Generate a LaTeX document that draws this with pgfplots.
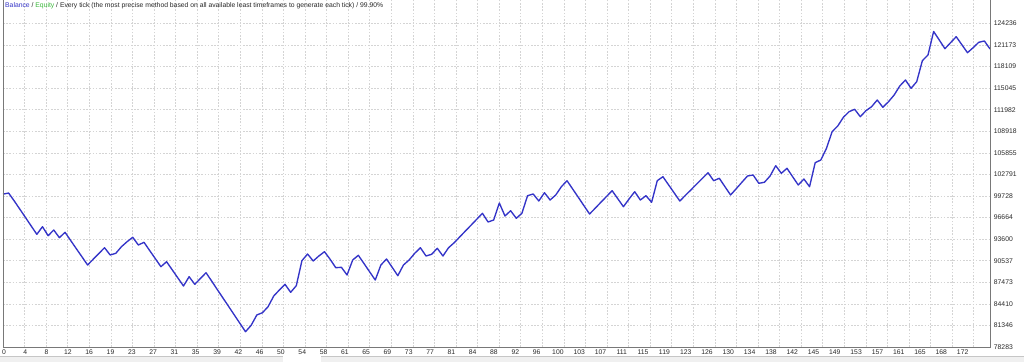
\documentclass[border=0pt]{standalone}
\usepackage{fontspec}
\setmainfont{Liberation Sans}
\usepackage{pgfplots}
\pgfplotsset{compat=1.18}
\usepackage{pgfplotstable}
\definecolor{balblue}{RGB}{52,52,200}
\definecolor{eqgreen}{RGB}{60,185,60}
\definecolor{gridgray}{RGB}{212,212,212}
\definecolor{framegray}{RGB}{120,120,120}
\definecolor{txtgray}{RGB}{40,40,40}

\pgfplotstableread{
i v
0 100000
1 100150
2 99022
3 97843
4 96664
5 95471
6 94292
7 95372
8 94093
9 94903
10 93809
11 94576
12 93411
13 92246
14 91096
15 89931
16 90755
17 91565
18 92389
19 91352
20 91593
21 92531
22 93241
23 93866
24 92772
25 93156
26 91991
27 90840
28 89690
29 90400
30 89249
31 88099
32 86948
33 88269
34 87190
35 88013
36 88837
37 87644
38 86437
39 85243
40 84050
41 82843
42 81650
43 80456
44 81366
45 82829
46 83155
47 84008
48 85528
49 86380
50 87190
51 86053
52 86991
53 90542
54 91494
55 90499
56 91210
57 91820
58 90741
59 89548
60 89604
61 88511
62 90641
63 91309
64 90144
65 88965
66 87800
67 89931
68 90783
69 89604
70 88411
71 89931
72 90641
73 91593
74 92389
75 91210
76 91451
77 92303
78 91210
79 92389
80 93099
81 93937
82 94775
83 95599
84 96437
85 97275
86 96039
87 96323
88 98738
89 96892
90 97644
91 96565
92 97275
93 99775
94 100017
95 99022
96 100201
97 99164
98 99875
99 101054
100 101906
101 100727
102 99548
103 98355
104 97176
105 98000
106 98838
107 99662
108 100485
109 99349
110 98213
111 99306
112 100343
113 99164
114 99775
115 98838
116 101906
117 102474
118 101324
119 100173
120 99022
121 99832
122 100627
123 101437
124 102233
125 103042
126 101906
127 102247
128 101054
129 99875
130 100769
131 101679
132 102574
133 102716
134 101537
135 101679
136 102574
137 104037
138 102957
139 103667
140 102474
141 101295
142 102147
143 101054
144 104463
145 104846
146 106508
147 108866
148 109676
149 110912
150 111707
151 112048
152 110997
153 111849
154 112418
155 113369
156 112332
157 113128
158 114080
159 115358
160 116210
161 115031
162 115969
163 118952
164 119762
165 123100
166 121892
167 120657
168 121509
169 122361
170 121225
171 120088
172 120799
173 121566
174 121750
175 120614
}\balance

\begin{document}
\begin{tikzpicture}[x=1pt,y=1pt]
\fill[white] (0,0) rectangle (1024,362);
\useasboundingbox (0,0) rectangle (1024,362);
% bottom strip
\fill[gray!12] (0,0) rectangle (283,5.5);
\fill[gray!12] (321,0) rectangle (1024,5.5);
\draw[gray!45, line width=0.6pt] (0,5.5) -- (283,5.5);
\draw[gray!45, line width=0.6pt] (321,5.5) -- (1024,5.5);
\begin{axis}[
  at={(3pt,15pt)}, anchor=south west,
  scale only axis, width=987.7pt, height=347pt,
  xmin=0, xmax=175.12, ymin=78283, ymax=127574,
  clip=false,
  axis line style={draw=none},
  /pgf/number format/assume math mode=true,
  tick style={draw=none},
  major tick length=0pt,
  xtick={0.18,3.957,...,170.3},
  xticklabels={0,4,8,12,16,19,23,27,31,35,39,42,46,50,54,58,61,65,69,73,77,81,84,88,92,96,100,103,107,111,115,119,123,126,130,134,138,142,145,149,153,157,161,165,168,172},
  xticklabel style={font=\fontsize{6.8}{7}\selectfont, text=txtgray, inner sep=0pt, anchor=north, yshift=-2.2pt},
  extra x ticks={0,3.8245,...,172.3},
  extra x tick labels={},
  extra x tick style={grid=major},
  xmajorgrids=false,
  ytick={78283,81346,84410,87473,90537,93600,96664,99728,102791,105855,108918,111982,115045,118109,121173,124236},
  yticklabels={78283,81346,84410,87473,90537,93600,96664,99728,102791,105855,108918,111982,115045,118109,121173,124236},
  yticklabel pos=right,
  yticklabel style={font=\fontsize{6.8}{7}\selectfont, text=txtgray, inner sep=0pt, anchor=west, xshift=3pt},
  ymajorgrids=true,
  major grid style={gridgray, line width=0.6pt, dash pattern=on 1.6pt off 1.6pt},
]
\addplot[balblue, line width=1.35pt, line join=round] table[x=i,y=v]{\balance};
\draw[framegray, line width=0.9pt] (rel axis cs:0,1) -- (rel axis cs:0,0) -- (rel axis cs:1,0) -- (rel axis cs:1,1);
\end{axis}
\node[anchor=west, inner sep=0pt, text=txtgray, font=\fontsize{6.8}{7}\selectfont] at (5,356)
  {\textcolor{balblue}{Balance} / \textcolor{eqgreen}{Equity} / Every tick (the most precise method based on all available least timeframes to generate each tick) / 99.90\%};
\end{tikzpicture}
\end{document}
